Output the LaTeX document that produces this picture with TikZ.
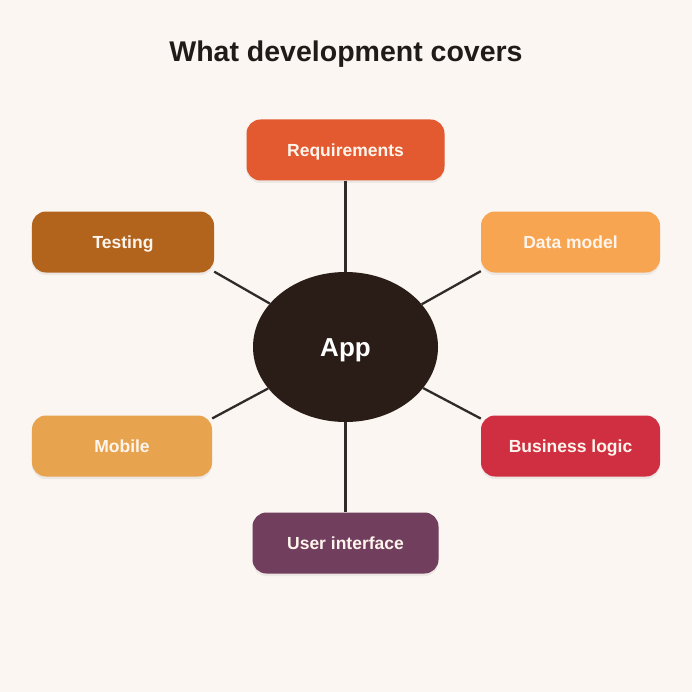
\documentclass[tikz,border=0pt]{standalone}
\usepackage{fontspec}
\setmainfont{Liberation Sans}
\usepackage{xcolor}
\usepackage{tikz}
\usetikzlibrary{shapes,arrows}
\usetikzlibrary{positioning}
\usetikzlibrary{shadows}
\definecolor{paper}{HTML}{FBF6F1}
\definecolor{ink}{HTML}{1F1B18}
\definecolor{wire}{HTML}{2E2B29}
\definecolor{labeltext}{HTML}{FFF5EC}
\definecolor{reqcol}{HTML}{E45A30}
\definecolor{testcol}{HTML}{B2641D}
\definecolor{datacol}{HTML}{F8A552}
\definecolor{mobilecol}{HTML}{E7A34E}
\definecolor{logiccol}{HTML}{D02F42}
\definecolor{uicol}{HTML}{713E5E}
\definecolor{appcol}{HTML}{2A1C16}
\tikzstyle{block} = [rectangle, rounded corners=14bp, minimum height=61bp,
    text=labeltext, font=\fontsize{17.5bp}{20bp}\selectfont\bfseries,
    text height=12.6bp, text depth=0pt, inner sep=0pt,
    drop shadow={opacity=0.12, shadow xshift=0bp, shadow yshift=-2.5bp}]
\tikzstyle{hub} = [ellipse, fill=appcol, minimum width=185bp, minimum height=150bp,
    text=white, font=\fontsize{26bp}{30bp}\selectfont\bfseries,
    text height=18.7bp, text depth=0pt, inner sep=0pt]
\tikzstyle{edge} = [draw=wire, line width=2.3bp, -]

\begin{document}
\begin{tikzpicture}[x=1bp, y=1bp]
  % Background and title
  \fill [paper] (0,0) rectangle (692,-692);
  \node [text=ink, font=\fontsize{28.5bp}{32bp}\selectfont\bfseries,
         text height=20.5bp, text depth=0pt, inner sep=0pt]
        (title) at (346,-51) {What development covers};
  % Place nodes
  \node [hub] (app) at (345.5,-347) {App};
  \node [block, fill=reqcol, minimum width=198bp, above of=app,
         node distance=197bp] (requirements) {Requirements};
  \node [block, fill=uicol, minimum width=186bp, below of=app,
         node distance=196bp] (ui) {User interface};
  \node [block, fill=testcol, minimum width=182bp]
        (testing) at ([shift={(-222.5,105)}]app) {Testing};
  \node [block, fill=datacol, minimum width=179bp]
        (datamodel) at ([shift={(225,105)}]app) {Data model};
  \node [block, fill=mobilecol, minimum width=180bp]
        (mobile) at ([shift={(-223.5,-99)}]app) {Mobile};
  \node [block, fill=logiccol, minimum width=179bp]
        (logic) at ([shift={(225,-99)}]app) {Business logic};
  % Draw edges
  \path [edge] (app) -- (requirements);
  \path [edge] (app) -- (ui);
  \path [edge] (app) -- (testing.-18);
  \path [edge] (app) -- (datamodel.198);
  \path [edge] (app) -- (mobile.17);
  \path [edge] (app) -- (logic.163);
\end{tikzpicture}
\end{document}
